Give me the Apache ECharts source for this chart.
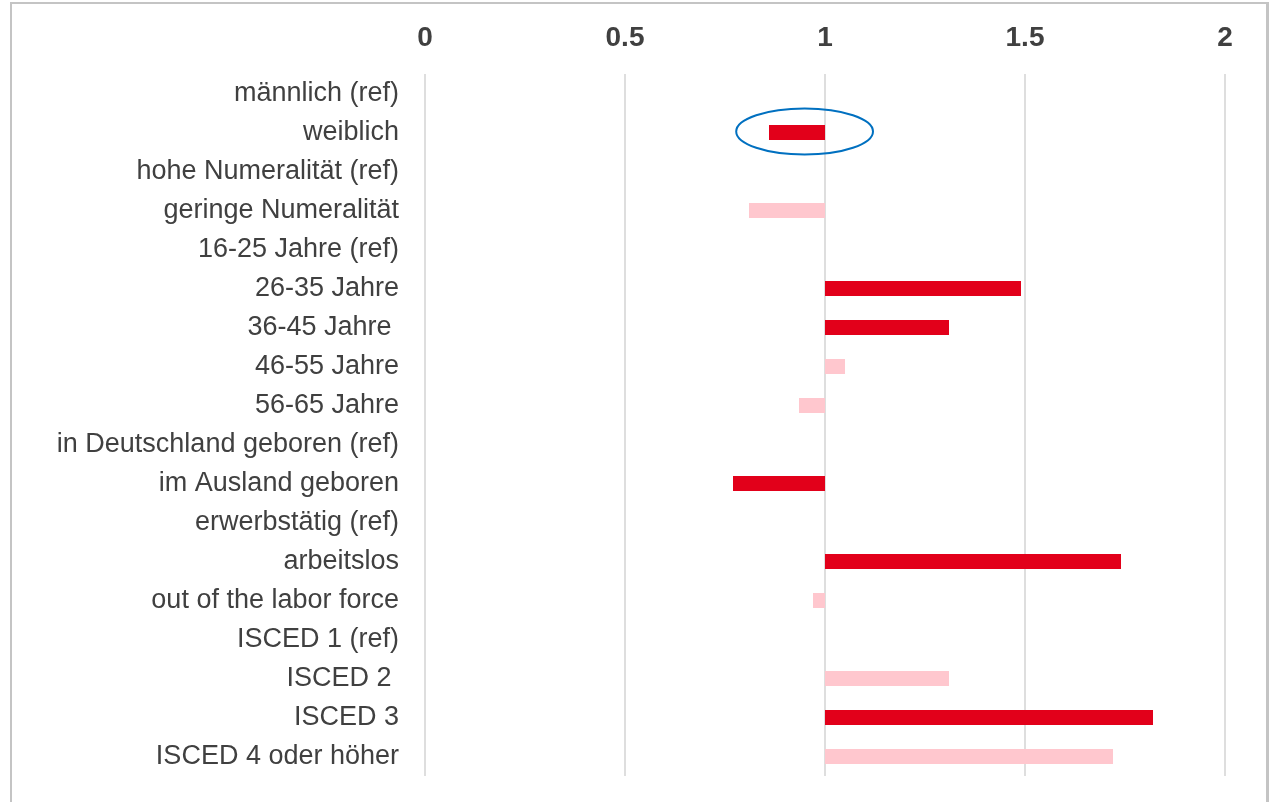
<!DOCTYPE html>
<html>
<head>
<meta charset="utf-8">
<script src="https://cdn.jsdelivr.net/npm/echarts@6/dist/echarts.min.js"></script>
<style>
  html, body { margin: 0; padding: 0; background: #fff; }
  #frame { position: absolute; left: 10px; top: 2px; width: 1254px; height: 820px; border: 2px solid #c4c4c4; border-right-width: 3px; }
  #chart { position: absolute; left: 0; top: 0; width: 1274px; height: 802px; }
</style>
</head>
<body>
<div id="frame"></div>
<div id="chart"></div>
<script>
// Kategorien (von oben nach unten)
const categories = [
  "männlich (ref)", "weiblich", "hohe Numeralität (ref)", "geringe Numeralität",
  "16-25 Jahre (ref)", "26-35 Jahre", "36-45 Jahre ", "46-55 Jahre", "56-65 Jahre",
  "in Deutschland geboren (ref)", "im Ausland geboren", "erwerbstätig (ref)",
  "arbeitslos", "out of the labor force", "ISCED 1 (ref)", "ISCED 2 ", "ISCED 3",
  "ISCED 4 oder höher"
];
// Odds Ratios (null = Referenzkategorie)
const oddsRatios = [
  null, 0.86, null, 0.81,
  null, 1.49, 1.31, 1.05, 0.935,
  null, 0.77, null,
  1.74, 0.97, null, 1.31, 1.82,
  1.72
];
// signifikant = dunkelrot, nicht signifikant = hellrosa
const significant = [
  false, true, false, false,
  false, true, true, false, false,
  false, true, false,
  true, false, false, false, true,
  false
];
const xTicks = [0, 0.5, 1, 1.5, 2];

const darkRed = "#e2001a";
const lightRed = "#ffc7ce";

// unsichtbarer Sockel bis min(v,1), sichtbarer Teil = |v-1|
const baseData = oddsRatios.map(v => (v == null ? null : Math.min(v, 1)));
const barData = oddsRatios.map((v, i) =>
  v == null ? null : {
    value: Math.abs(v - 1),
    itemStyle: { color: significant[i] ? darkRed : lightRed },
  }
);

let myChart = echarts.init(document.getElementById("chart"));
myChart.setOption({
  animation: false,
  grid: { left: 425, right: 49, top: 74, height: 702 },
  xAxis: {
    type: "value",
    position: "top",
    min: xTicks[0],
    max: xTicks[xTicks.length - 1],
    interval: 0.5,
    axisLine: { show: false },
    axisTick: { show: false },
    axisLabel: {
      fontSize: 28,
      fontWeight: "bold",
      color: "#404040",
      fontFamily: "Liberation Sans, Arial, sans-serif",
      margin: 22,
    },
    splitLine: { lineStyle: { color: "#dedede", width: 2 } },
  },
  yAxis: {
    type: "category",
    inverse: true,
    data: categories,
    axisLine: { show: false },
    axisTick: { show: false },
    axisLabel: {
      fontSize: 27,
      color: "#404040",
      fontFamily: "Liberation Sans, Arial, sans-serif",
      margin: 26,
      padding: [10, 0, 0, 0],
    },
  },
  series: [
    {
      type: "bar",
      stack: "or",
      data: baseData,
      barWidth: 15,
      itemStyle: { color: "transparent" },
      silent: true,
    },
    {
      type: "bar",
      stack: "or",
      data: barData,
      barWidth: 15,
    },
  ],
});

// Ellipse um "weiblich"
const c = myChart.convertToPixel({ gridIndex: 0 }, [0.949, "weiblich"]);
const r = myChart.convertToPixel({ gridIndex: 0 }, [0.949 + 0.171, "weiblich"]);
myChart.setOption({
  graphic: [
    {
      type: "ellipse",
      shape: { cx: c[0], cy: c[1] - 1, rx: r[0] - c[0], ry: 23 },
      style: { fill: "none", stroke: "#0070c0", lineWidth: 2 },
      z: 10,
    },
  ],
});

window.addEventListener("resize", () => {
  myChart.resize();
});
</script>
</body>
</html>
